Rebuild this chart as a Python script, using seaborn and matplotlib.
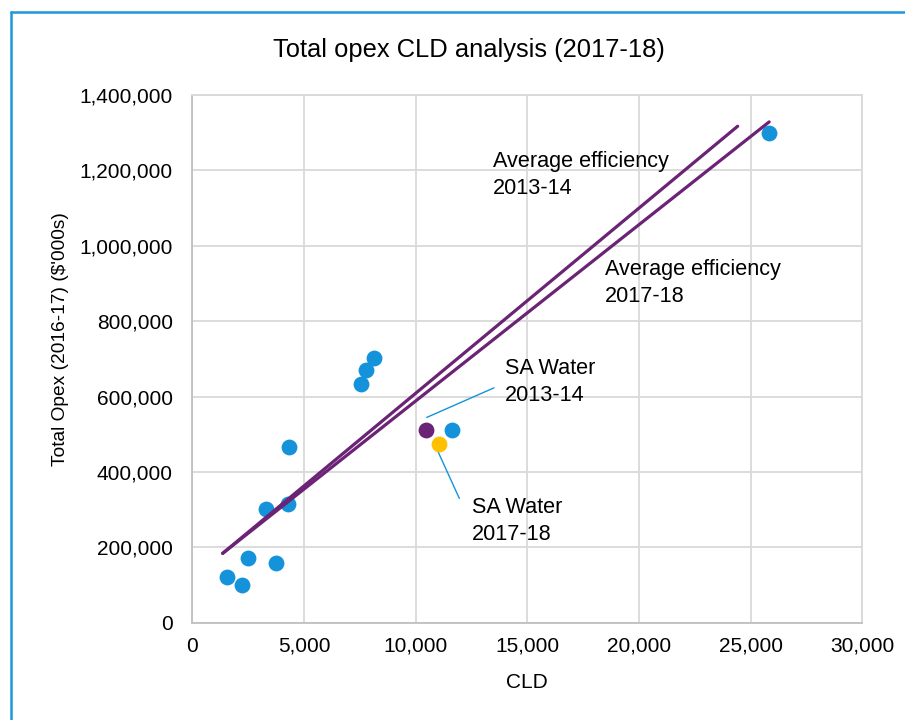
import numpy as np
import pandas as pd
import matplotlib.pyplot as plt
import seaborn as sns
from matplotlib.lines import Line2D
from matplotlib.ticker import FuncFormatter, MultipleLocator

# CLD vs total opex, other utilities
cld = [1541, 2227, 2482, 3750, 3288, 4301, 4319, 7545, 7796, 8127, 11650, 25806]
opex = [121900, 99100, 171400, 157400, 301200, 314400, 467300,
        634200, 669400, 702000, 512300, 1299000]

# SA Water points
sa_1314 = (10470, 512300)
sa_1718 = (11057, 474200)

# average efficiency lines (start, end)
eff_1314_x = [1360, 24420]
eff_1314_y = [184100, 1317200]
eff_1718_x = [1360, 25830]
eff_1718_y = [184100, 1328700]

blue = '#1593DA'
purple = '#6B2375'
yellow = '#FFC000'

sns.set_theme(style="whitegrid")
plt.rcParams['font.family'] = ['Liberation Sans', 'DejaVu Sans']

fig = plt.figure(figsize=(9.05, 7.2), dpi=100)
ax = fig.add_axes([0.2125, 0.1351, 0.7403, 0.7329])

df = pd.DataFrame({'CLD': cld, 'Opex': opex})
sns.scatterplot(data=df, x='CLD', y='Opex', color=blue, s=130, linewidth=0, ax=ax, zorder=3)
sns.scatterplot(x=[sa_1314[0]], y=[sa_1314[1]], color=purple, s=130, linewidth=0, ax=ax, zorder=3)
sns.scatterplot(x=[sa_1718[0]], y=[sa_1718[1]], color=yellow, s=130, linewidth=0, ax=ax, zorder=3)

sns.lineplot(x=eff_1314_x, y=eff_1314_y, color=purple, lw=2.3, sort=False, ax=ax, zorder=4)
sns.lineplot(x=eff_1718_x, y=eff_1718_y, color=purple, lw=2.3, sort=False, ax=ax, zorder=4)

# callout lines for SA Water points
ax.plot([10497, 13510], [544700, 623200], color=blue, lw=1, zorder=2)
ax.plot([10971, 11956], [458000, 329900], color=blue, lw=1, zorder=2)

# y given at baseline of the second line
txt = dict(fontsize=15.6, color='black', ha='left', va='baseline', linespacing=1.36)
ax.text(13452, 1136900, 'Average efficiency\n2013-14', **txt)
ax.text(18481, 851300, 'Average efficiency\n2017-18', **txt)
ax.text(13997, 588000, 'SA Water\n2013-14', **txt)
ax.text(12536, 219300, 'SA Water\n2017-18', **txt)

ax.set_xlim(0, 30000)
ax.set_ylim(0, 1400000)
ax.xaxis.set_major_locator(MultipleLocator(5000))
ax.yaxis.set_major_locator(MultipleLocator(200000))
ax.xaxis.set_major_formatter(FuncFormatter(lambda v, p: f'{v:,.0f}'))
ax.yaxis.set_major_formatter(FuncFormatter(lambda v, p: f'{v:,.0f}'))
ax.tick_params(axis='both', length=0, labelsize=15, colors='black')
ax.tick_params(axis='y', pad=14)
ax.tick_params(axis='x', pad=10)
ax.grid(True, color='#D9D9D9', lw=1.3)
for s in ax.spines.values():
    s.set_color('#D9D9D9')
    s.set_linewidth(1.3)
ax.spines['left'].set_color('#BFBFBF')
ax.spines['bottom'].set_color('#BFBFBF')
ax.set_facecolor('white')

ax.set_xlabel('CLD', fontsize=15, color='black')
ax.set_ylabel("Total Opex (2016-17) ($'000s)", fontsize=13.8, color='black')
ax.xaxis.set_label_coords(0.5, -0.114)
ax.xaxis.label.set_va('center')
ax.yaxis.set_label_coords(-0.197, 0.5376)
ax.yaxis.label.set_va('center')

fig.text(469 / 905, 1 - 56.7 / 720, 'Total opex CLD analysis (2017-18)',
         fontsize=18.4, ha='center', va='baseline', color='black')

# blue frame on top and left edge
fig.add_artist(Line2D([0.0127, 1], [0.984, 0.984], color='#1E96DA', lw=1.8, transform=fig.transFigure))
fig.add_artist(Line2D([0.0127, 0.0127], [0, 0.984], color='#1E96DA', lw=1.8, transform=fig.transFigure))

fig.savefig('out.png', dpi=100, facecolor='white')
